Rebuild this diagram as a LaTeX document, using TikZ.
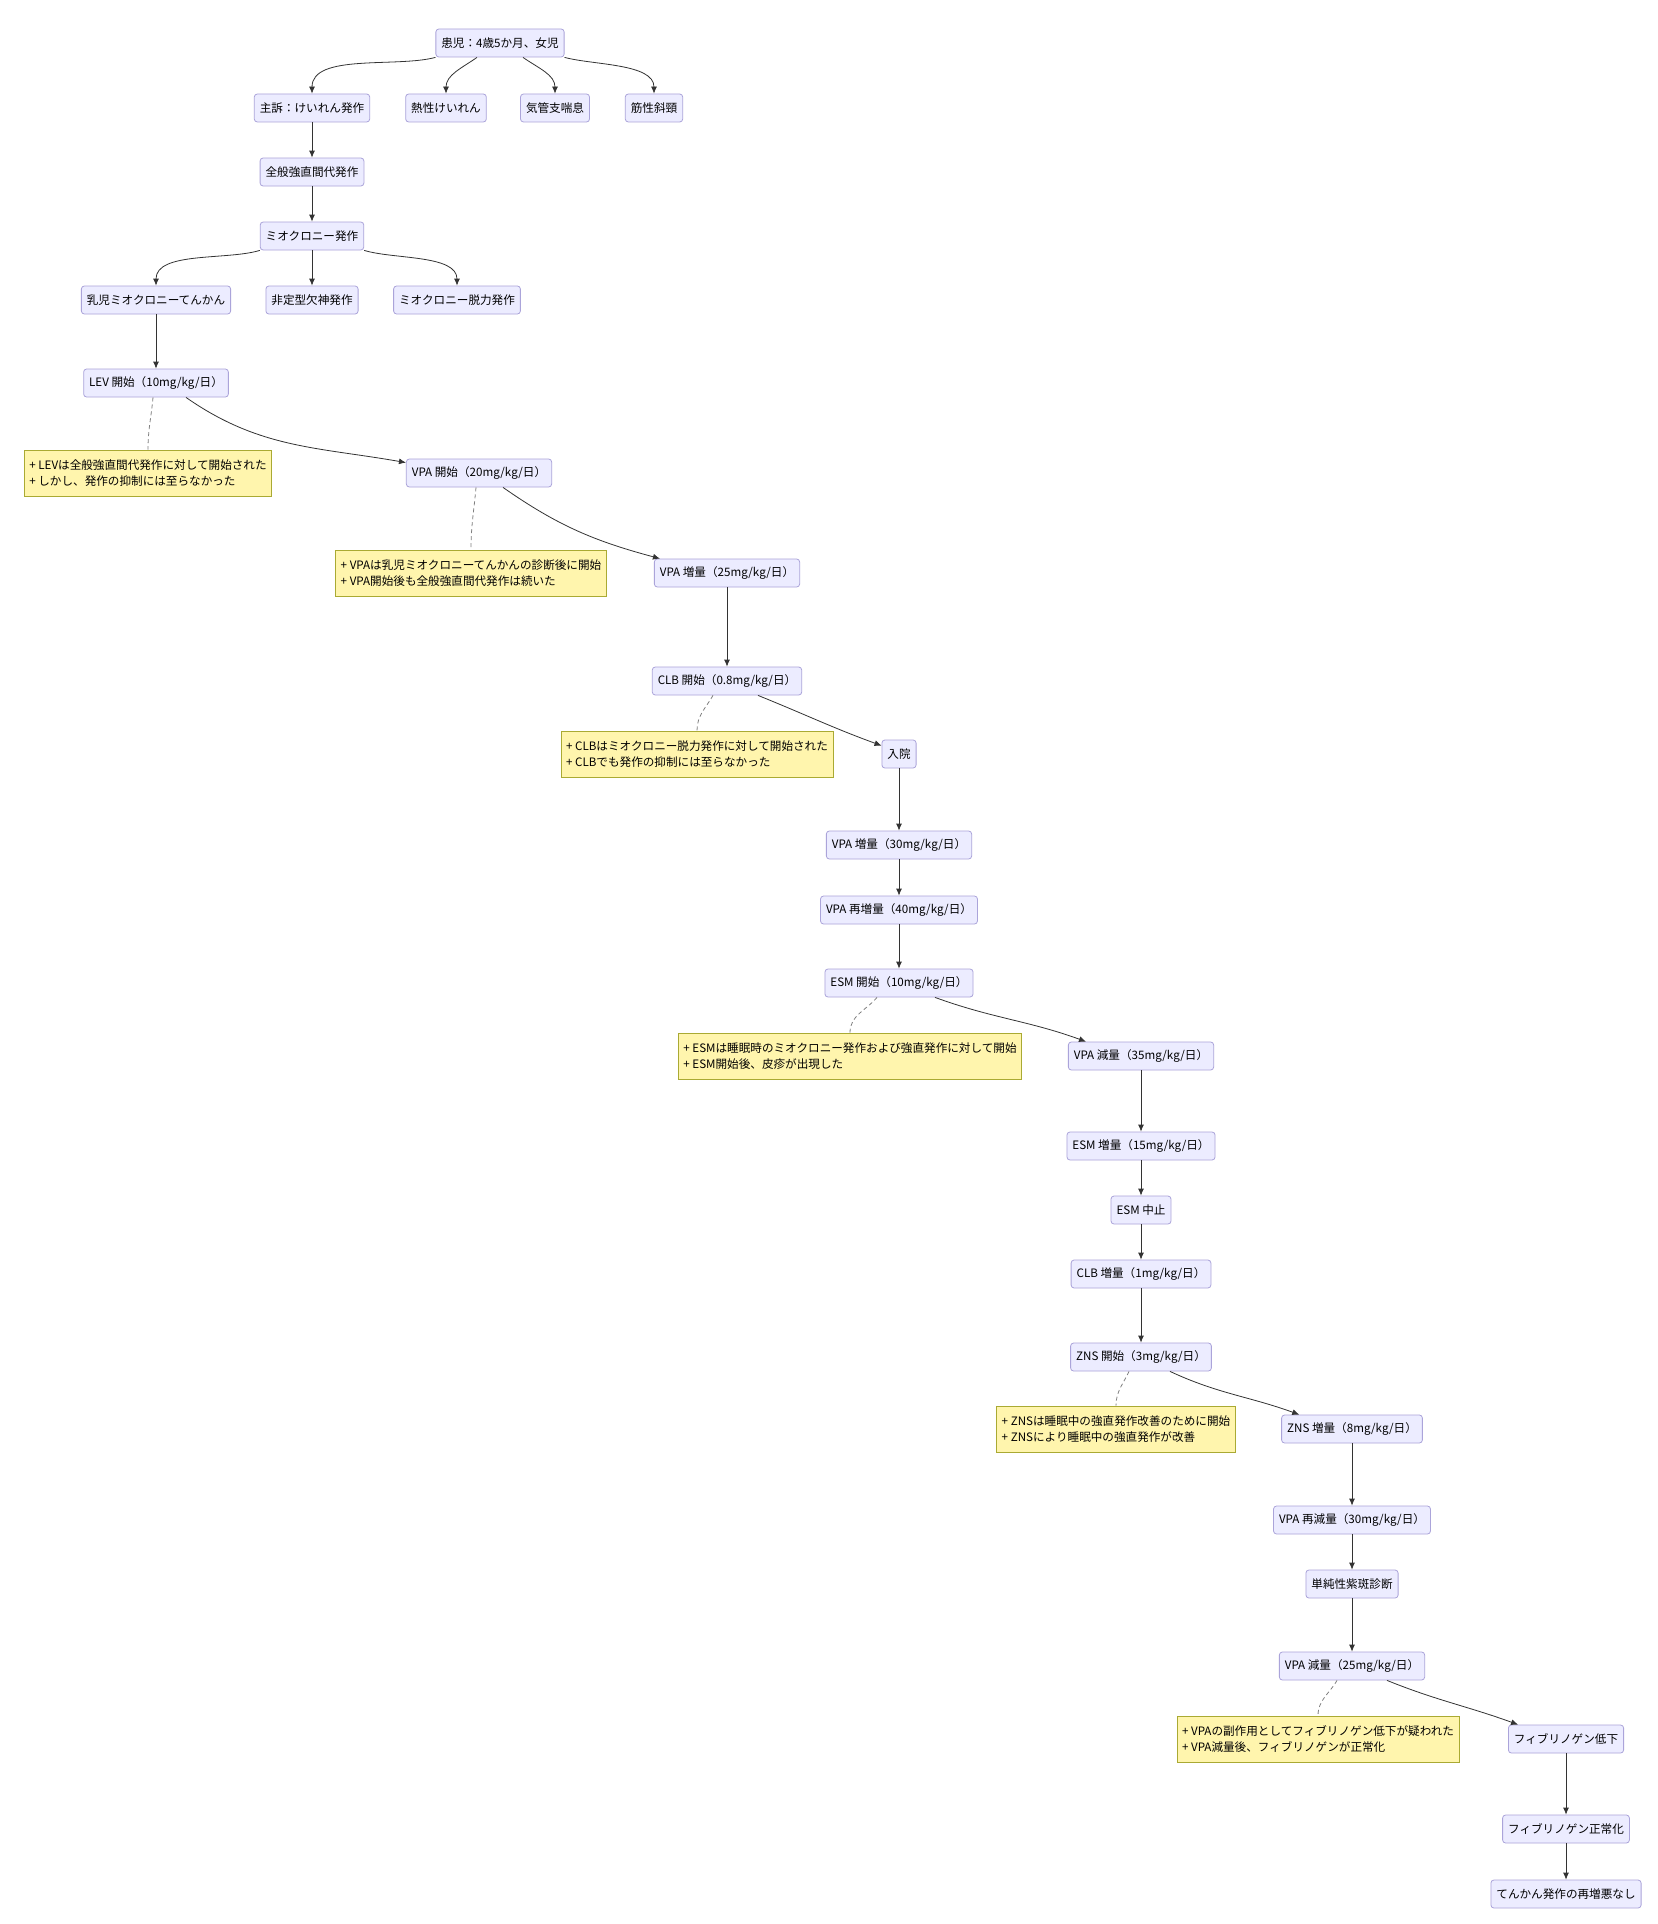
\documentclass[tikz,border=0pt]{standalone}
\usepackage{fontspec}
\setmainfont{Noto Sans CJK JP}
\usetikzlibrary{arrows.meta}
\definecolor{boxfill}{HTML}{ECECFF}
\definecolor{boxline}{HTML}{ABA4DA}
\definecolor{notefill}{HTML}{FFF5AD}
\definecolor{noteline}{HTML}{AAAA33}
\definecolor{linkgray}{HTML}{333333}

\begin{document}
\begin{tikzpicture}[
    x=1pt, y=1pt,
    box/.style={
        draw=boxline,
        fill=boxfill,
        line width=0.8pt,
        rounded corners=3pt,
        minimum height=28pt,
        inner xsep=5.5pt,
        font=\fontsize{11.6}{14}\selectfont
    },
    note/.style={
        draw=noteline,
        fill=notefill,
        line width=0.8pt,
        minimum height=46pt,
        inner xsep=5pt,
        align=left,
        font=\fontsize{11.6}{16.5}\selectfont
    },
    arrow/.style={
        ->,
        >={Latex[length=7pt,width=6pt]},
        line width=0.8pt,
        linkgray
    },
    link/.style={
        dash pattern=on 4pt off 3pt,
        line width=0.8pt,
        gray
    }
]
\useasboundingbox[fill=white] (0,0) rectangle (1657,-1924);

% Nodes (top part)
\node[box] (patient) at (500,-43) {患児：4歳5か月、女児};
\node[box] (cc) at (312,-108) {主訴：けいれん発作};
\node[box] (febrile) at (446,-108) {熱性けいれん};
\node[box] (asthma) at (555,-108) {気管支喘息};
\node[box] (tort) at (654,-108) {筋性斜頸};
\node[box] (gtc) at (312,-172) {全般強直間代発作};
\node[box] (myoc) at (312,-236) {ミオクロニー発作};
\node[box] (ime) at (156,-300) {乳児ミオクロニーてんかん};
\node[box] (atyp) at (312,-300) {非定型欠神発作};
\node[box] (atonic) at (457,-300) {ミオクロニー脱力発作};

% Nodes (treatment course)
\node[box] (lev) at (156,-383) {LEV 開始（10mg/kg/日）};
\node[box] (vpa1) at (479,-473) {VPA 開始（20mg/kg/日）};
\node[box] (vpa2) at (727,-573) {VPA 増量（25mg/kg/日）};
\node[box] (clb1) at (727,-681) {CLB 開始（0.8mg/kg/日）};
\node[box] (adm) at (899,-754) {入院};
\node[box] (vpa3) at (899,-845) {VPA 増量（30mg/kg/日）};
\node[box] (vpa4) at (899,-910) {VPA 再増量（40mg/kg/日）};
\node[box] (esm1) at (899,-983) {ESM 開始（10mg/kg/日）};
\node[box] (vpa5) at (1141,-1056) {VPA 減量（35mg/kg/日）};
\node[box] (esm2) at (1141,-1146) {ESM 増量（15mg/kg/日）};
\node[box] (esmstop) at (1141,-1210) {ESM 中止};
\node[box] (clb2) at (1141,-1274) {CLB 増量（1mg/kg/日）};
\node[box] (zns1) at (1141,-1357) {ZNS 開始（3mg/kg/日）};
\node[box] (zns2) at (1352,-1429) {ZNS 増量（8mg/kg/日）};
\node[box] (vpa6) at (1352,-1520) {VPA 再減量（30mg/kg/日）};
\node[box] (purp) at (1352,-1584) {単純性紫斑診断};
\node[box] (vpa7) at (1352,-1666) {VPA 減量（25mg/kg/日）};
\node[box] (fibl) at (1566,-1739) {フィブリノゲン低下};
\node[box] (fibn) at (1566,-1829) {フィブリノゲン正常化};
\node[box] (norel) at (1566,-1894) {てんかん発作の再増悪なし};

% Notes
\node[note] (note1) at (148,-473) {+ LEVは全般強直間代発作に対して開始された\\+ しかし、発作の抑制には至らなかった};
\node[note] (note2) at (471,-573) {+ VPAは乳児ミオクロニーてんかんの診断後に開始\\+ VPA開始後も全般強直間代発作は続いた};
\node[note] (note3) at (697,-754) {+ CLBはミオクロニー脱力発作に対して開始された\\+ CLBでも発作の抑制には至らなかった};
\node[note] (note4) at (850,-1056) {+ ESMは睡眠時のミオクロニー発作および強直発作に対して開始\\+ ESM開始後、皮疹が出現した};
\node[note] (note5) at (1116,-1429) {+ ZNSは睡眠中の強直発作改善のために開始\\+ ZNSにより睡眠中の強直発作が改善};
\node[note] (note6) at (1318,-1739) {+ VPAの副作用としてフィブリノゲン低下が疑われた\\+ VPA減量後、フィブリノゲンが正常化};

% Connectors (top part)
\draw[arrow] (patient.south west) to[out=195,in=90,looseness=0.8] (cc.north);
\draw[arrow] ([xshift=-23pt]patient.south) to[out=215,in=90] (febrile.north);
\draw[arrow] ([xshift=23pt]patient.south) to[out=-35,in=90] (asthma.north);
\draw[arrow] (patient.south east) to[out=-15,in=90,looseness=0.8] (tort.north);
\draw[arrow] (cc) -- (gtc);
\draw[arrow] (gtc) -- (myoc);
\draw[arrow] (myoc.south west) to[out=197,in=90,looseness=0.8] (ime.north);
\draw[arrow] (myoc) -- (atyp);
\draw[arrow] (myoc.south east) to[out=-17,in=90,looseness=0.8] (atonic.north);
\draw[arrow] (ime) -- (lev);

% Connectors (treatment course)
\draw[arrow] ([xshift=30pt]lev.south) to[out=-35,in=170] ([yshift=-4pt]vpa1.north west);
\draw[arrow] ([xshift=24pt]vpa1.south) to[out=-35,in=165] ([xshift=6pt]vpa2.north west);
\draw[arrow] (vpa2) -- (clb1);
\draw[arrow] ([xshift=31pt]clb1.south) to[out=-22,in=160] ([yshift=-6pt]adm.north west);
\draw[arrow] (adm) -- (vpa3);
\draw[arrow] (vpa3) -- (vpa4);
\draw[arrow] (vpa4) -- (esm1);
\draw[arrow] ([xshift=36pt]esm1.south) to[out=-20,in=160] ([xshift=18pt]vpa5.north west);
\draw[arrow] (vpa5) -- (esm2);
\draw[arrow] (esm2) -- (esmstop);
\draw[arrow] (esmstop) -- (clb2);
\draw[arrow] (clb2) -- (zns1);
\draw[arrow] ([xshift=29pt]zns1.south) to[out=-25,in=160] ([xshift=18pt]zns2.north west);
\draw[arrow] (zns2) -- (vpa6);
\draw[arrow] (vpa6) -- (purp);
\draw[arrow] (purp) -- (vpa7);
\draw[arrow] ([xshift=35pt]vpa7.south) to[out=-22,in=160] ([xshift=10pt]fibl.north west);
\draw[arrow] (fibl) -- (fibn);
\draw[arrow] (fibn) -- (norel);

% Note links
\draw[link] ([xshift=-3pt]lev.south) to[out=-95,in=90] (note1.north);
\draw[link] ([xshift=-3pt]vpa1.south) to[out=-95,in=90] (note2.north);
\draw[link] ([xshift=-14pt]clb1.south) to[out=-120,in=90] (note3.north);
\draw[link] ([xshift=-22pt]esm1.south) to[out=-130,in=90] (note4.north);
\draw[link] ([xshift=-12pt]zns1.south) to[out=-115,in=90] (note5.north);
\draw[link] ([xshift=-15pt]vpa7.south) to[out=-120,in=90] (note6.north);

\end{tikzpicture}
\end{document}
